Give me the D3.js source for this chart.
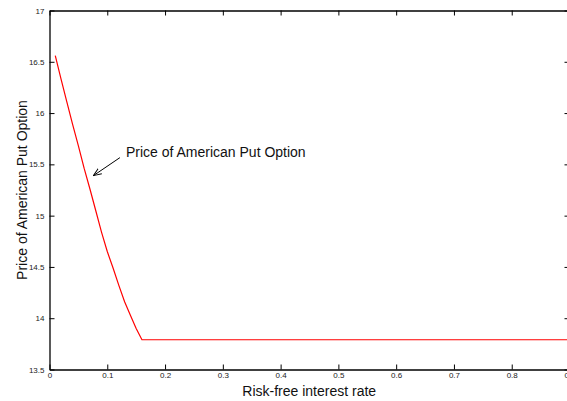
<!DOCTYPE html>
<html>
<head>
<meta charset="utf-8">
<script src="https://cdn.jsdelivr.net/npm/d3@7"></script>
<style>
  html, body { margin: 0; padding: 0; background: #fff; }
  svg { display: block; }
  text { font-family: "Liberation Sans", Arial, Helvetica, sans-serif; }
</style>
</head>
<body>
<svg id="chart" width="567" height="401"></svg>
<script>
// Data
const rates  = [0.01, 0.02, 0.03, 0.04, 0.05, 0.06, 0.07, 0.08, 0.09, 0.10, 0.11, 0.12, 0.13, 0.14, 0.15, 0.16, 0.17, 0.3, 0.5, 0.7, 0.9];
const prices = [16.56, 16.33, 16.11, 15.89, 15.68, 15.46, 15.26, 15.05, 14.84, 14.65, 14.49, 14.32, 14.16, 14.03, 13.90, 13.79, 13.79, 13.79, 13.79, 13.79, 13.79];
const xTicks = [0, 0.1, 0.2, 0.3, 0.4, 0.5, 0.6, 0.7, 0.8, 0.9];
const yTicks = [13.5, 14, 14.5, 15, 15.5, 16, 16.5, 17];
const xTickLabels = ["0", "0.1", "0.2", "0.3", "0.4", "0.5", "0.6", "0.7", "0.8", "0.9"];
const yTickLabels = ["13.5", "14", "14.5", "15", "15.5", "16", "16.5", "17"];
const xLabel = "Risk-free interest rate";
const yLabel = "Price of American Put Option";
const annotationText = "Price of American Put Option";
const annotationPoint = [0.076, 15.39];

const svg = d3.select("#chart");
const L = 49.5, T = 10.5, R = 569.5, B = 369.5;

const x = d3.scaleLinear().domain([0, 0.9]).range([L, R]);
const y = d3.scaleLinear().domain([13.5, 17]).range([B, T]);

const tickLen = 5;
const tickFont = "8px";

// bottom axis
const xAxisB = d3.axisBottom(x).tickValues(xTicks).tickFormat((d, i) => xTickLabels[i])
  .tickSizeInner(-tickLen).tickSizeOuter(0).tickPadding(3);
const gB = svg.append("g").attr("transform", `translate(0,${B})`).call(xAxisB);
// top axis (ticks only)
const xAxisT = d3.axisTop(x).tickValues(xTicks).tickFormat("").tickSizeInner(-tickLen).tickSizeOuter(0);
const gT = svg.append("g").attr("transform", `translate(0,${T})`).call(xAxisT);
// left axis
const yAxisL = d3.axisLeft(y).tickValues(yTicks).tickFormat((d, i) => yTickLabels[i])
  .tickSizeInner(-tickLen).tickSizeOuter(0).tickPadding(5);
const gL = svg.append("g").attr("transform", `translate(${L},0)`).call(yAxisL);
// right axis (ticks only)
const yAxisR = d3.axisRight(y).tickValues(yTicks).tickFormat("").tickSizeInner(-tickLen).tickSizeOuter(0);
const gR = svg.append("g").attr("transform", `translate(${R},0)`).call(yAxisR);

[gB, gT, gL, gR].forEach(g => {
  g.selectAll(".domain").attr("stroke", "#000").attr("stroke-width", 1.3);
  g.selectAll(".tick line").attr("stroke", "#000").attr("stroke-width", 1);
  g.selectAll(".tick text").attr("fill", "#222").style("font-size", tickFont)
    .style("font-family", "'Liberation Sans', Arial, sans-serif");
});

// curve
const line = d3.line().x((d, i) => x(rates[i])).y((d, i) => y(prices[i]));
svg.append("path")
  .datum(prices)
  .attr("d", line)
  .attr("fill", "none")
  .attr("stroke", "#ff0000")
  .attr("stroke-width", 1.2);

// annotation
const ax = x(annotationPoint[0]), ay = y(annotationPoint[1]);
svg.append("defs").append("marker")
  .attr("id", "arrow")
  .attr("viewBox", "0 0 10 10")
  .attr("refX", 10).attr("refY", 5)
  .attr("markerWidth", 8).attr("markerHeight", 8)
  .attr("orient", "auto-start-reverse")
  .attr("markerUnits", "userSpaceOnUse")
  .append("path")
  .attr("d", "M0,1 L10,5 L0,9")
  .attr("fill", "none")
  .attr("stroke", "#000")
  .attr("stroke-width", 1.2);

svg.append("line")
  .attr("x1", ax + 26.5).attr("y1", ay - 18)
  .attr("x2", ax).attr("y2", ay)
  .attr("stroke", "#000").attr("stroke-width", 1)
  .attr("marker-end", "url(#arrow)");

svg.append("text")
  .attr("x", ax + 32.5).attr("y", ay - 18.5)
  .attr("font-size", "14px")
  .attr("fill", "#111")
  .text(annotationText);

// axis labels
svg.append("text")
  .attr("x", (L + 569) / 2).attr("y", 396)
  .attr("text-anchor", "middle")
  .attr("font-size", "14px")
  .attr("fill", "#111")
  .text(xLabel);

svg.append("text")
  .attr("transform", `translate(27,${(T + B) / 2}) rotate(-90)`)
  .attr("text-anchor", "middle")
  .attr("font-size", "14px")
  .attr("fill", "#111")
  .text(yLabel);
</script>
</body>
</html>
